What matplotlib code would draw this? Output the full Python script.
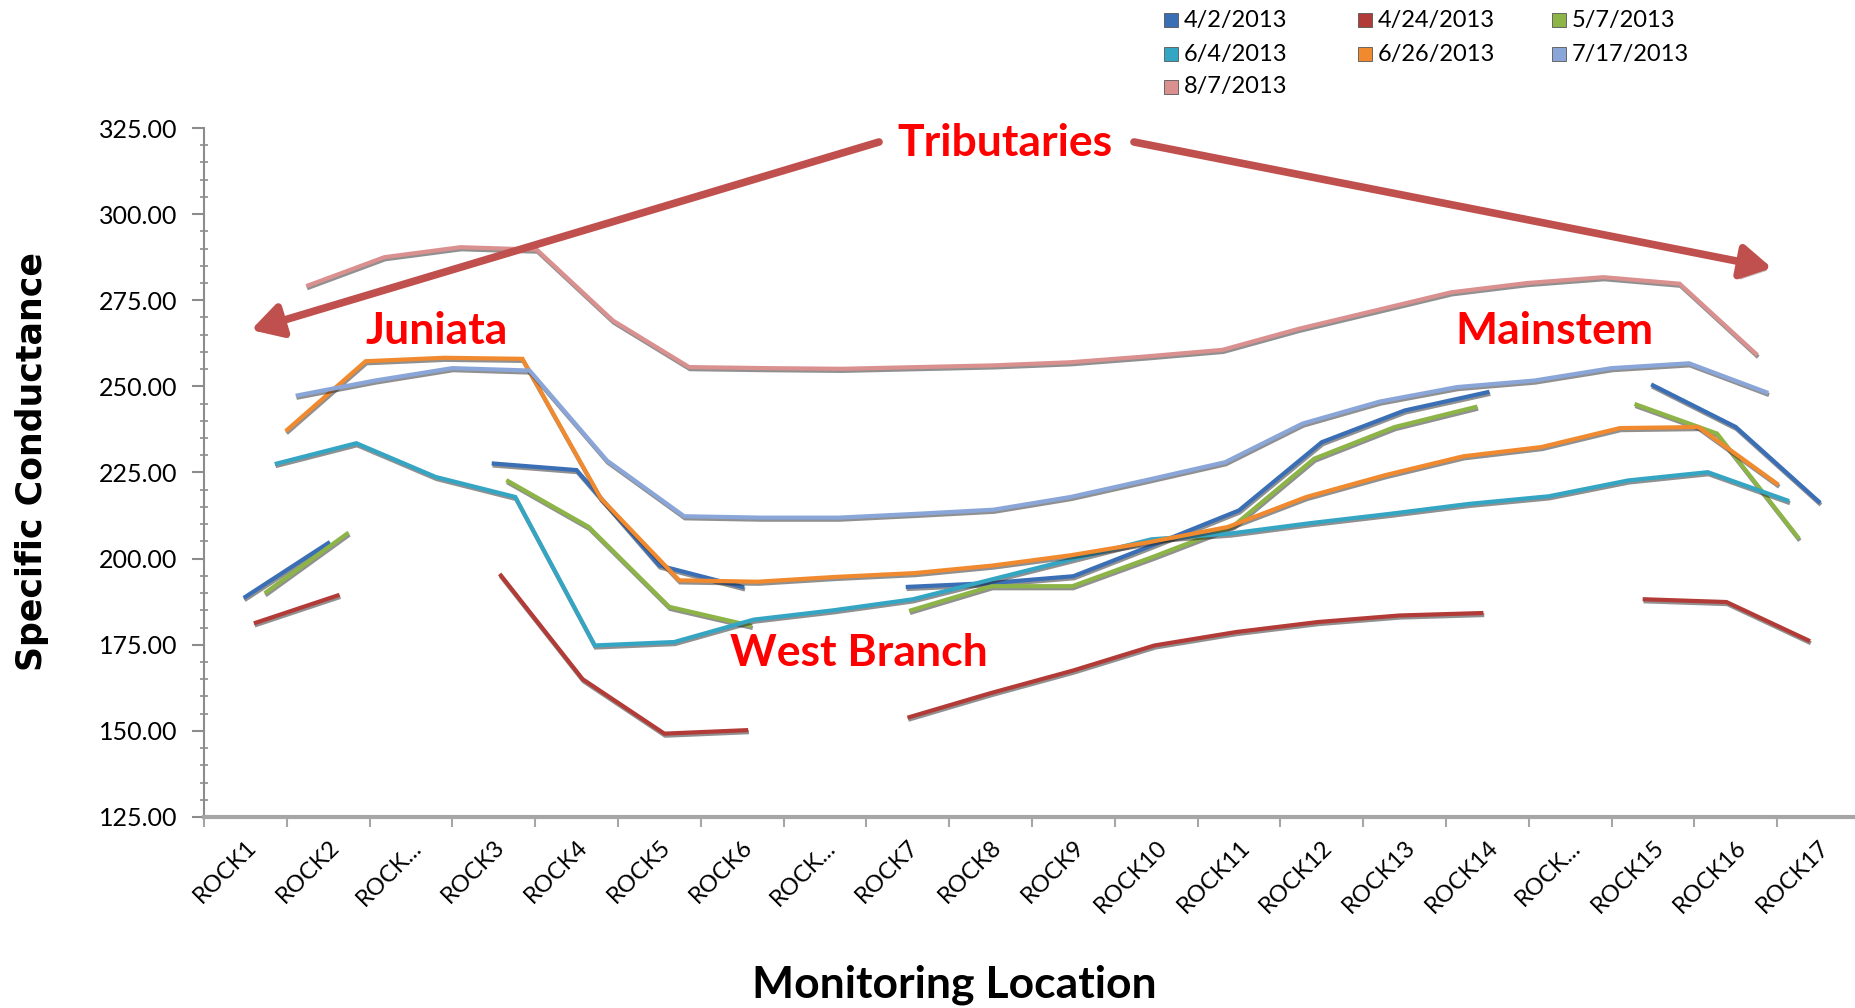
import numpy as np
import matplotlib.pyplot as plt
import matplotlib.patheffects as pe
from matplotlib.patches import FancyArrowPatch
from matplotlib.lines import Line2D
from matplotlib.ticker import MultipleLocator, FormatStrFormatter

nan = np.nan

locations = ["ROCK1", "ROCK2", "ROCK...", "ROCK3", "ROCK4", "ROCK5", "ROCK6", "ROCK...",
             "ROCK7", "ROCK8", "ROCK9", "ROCK10", "ROCK11", "ROCK12", "ROCK13", "ROCK14",
             "ROCK...", "ROCK15", "ROCK16", "ROCK17"]
dates = ["4/2/2013", "4/24/2013", "5/7/2013", "6/4/2013", "6/26/2013", "7/17/2013", "8/7/2013"]

cond_0402 = [188.9, 204.5, nan, 227.6, 225.7, 198.0, 191.8, nan, 191.8, 192.9,
             194.9, 204.3, 214.0, 233.8, 243.0, 248.3, nan, 250.3, 238.2, 216.6]
cond_0424 = [181.4, 189.3, nan, 195.1, 165.0, 149.2, 150.2, nan, 154.0, 161.0,
             167.5, 174.8, 178.7, 181.6, 183.5, 184.2, nan, 188.2, 187.4, 176.3]
cond_0507 = [190.3, 207.2, nan, 222.5, 209.2, 186.0, 180.6, nan, 185.0, 192.0,
             192.0, 200.5, 209.5, 229.0, 238.2, 244.0, nan, 244.7, 236.3, 206.3]
cond_0604 = [227.6, 233.5, 223.7, 217.9, 174.8, 175.8, 182.3, 185.0, 188.2, 194.0,
             199.8, 205.6, 207.3, 210.3, 213.0, 215.9, 218.1, 222.7, 225.1, 216.9]
cond_0626 = [237.4, 257.3, 258.3, 258.0, 217.5, 193.7, 193.3, 194.7, 195.8, 198.0,
             201.0, 204.8, 209.2, 217.9, 224.2, 229.7, 232.4, 237.9, 238.2, 221.8]
cond_0717 = [247.4, 251.7, 255.3, 254.6, 228.5, 212.3, 211.9, 211.9, 213.0, 214.2,
             217.9, 222.9, 228.0, 239.2, 245.6, 249.8, 251.7, 255.3, 256.7, 248.3]
cond_0807 = [279.3, 287.5, 290.4, 289.7, 269.1, 255.6, 255.3, 255.1, 255.6, 256.1,
             257.0, 258.7, 260.6, 266.7, 272.0, 277.3, 280.0, 281.7, 279.8, 259.5]

series = [cond_0402, cond_0424, cond_0507, cond_0604, cond_0626, cond_0717, cond_0807]
colors = ["#3a6eb5", "#b23b37", "#8db446", "#35a5c4", "#f18a2e", "#8aa6d8", "#d9908f"]

W, H = 1856, 1008
plt.rcParams['font.family'] = ['Lato', 'DejaVu Sans']

fig = plt.figure(figsize=(W / 100, H / 100), dpi=100)
fig.patch.set_facecolor("white")
ax = fig.add_axes([204 / W, 191 / H, 1656 / W, 689 / H])


def fig_xy(px, py):
    return px / W, 1 - py / H


# excel's 3-D line chart: later series sit deeper, so they are squeezed towards the middle
idx = np.arange(len(locations))
mid = (len(locations) - 1) / 2
for s, (vals, col) in enumerate(zip(series, colors)):
    x = mid + (idx - mid) * (1 - 0.0133 * s)
    ax.plot(x, vals, color=col, lw=3, solid_joinstyle='miter',
            path_effects=[pe.SimpleLineShadow(offset=(0.6, -1.5), shadow_color='#222222', alpha=0.5),
                          pe.Normal()])

ax.set_xlim(-0.5, len(locations) - 0.5)
ax.set_ylim(125, 325)
for side in ['top', 'right']:
    ax.spines[side].set_visible(False)
ax.spines['left'].set_color('#8c8c8c')
ax.spines['left'].set_linewidth(1.5)
ax.spines['bottom'].set_color('#a6a6a6')
ax.spines['bottom'].set_linewidth(3)

ax.yaxis.set_major_locator(MultipleLocator(25))
ax.yaxis.set_minor_locator(MultipleLocator(5))
ax.yaxis.set_major_formatter(FormatStrFormatter('%.2f'))
ax.tick_params(axis='y', which='major', direction='out', length=9, width=1.5,
               color='#8c8c8c', labelsize=18, pad=10)
ax.tick_params(axis='y', which='minor', direction='inout', length=6, width=1.2, color='#8c8c8c')

ax.set_xticks(idx)
ax.set_xticklabels(locations, rotation=45, ha='right', va='top', rotation_mode='anchor')
ax.set_xticks(np.arange(-0.5, len(locations), 1), minor=True)
ax.tick_params(axis='x', which='major', length=0, pad=14, labelsize=17)
ax.tick_params(axis='x', which='minor', direction='out', length=7, width=1.5, color='#a6a6a6')

fig.text(*fig_xy(32, 462), 'Specific Conductance', rotation=90, ha='center', va='center',
         fontsize=25, fontweight='bold', family='DejaVu Sans')
fig.text(*fig_xy(954, 985), 'Monitoring Location', ha='center', va='center',
         fontsize=32, fontweight='bold')

# annotations
for label, (px, py) in [("Tributaries", (1005, 143)), ("Juniata", (437, 331)),
                        ("West Branch", (859, 653)), ("Mainstem", (1554, 331))]:
    fig.text(*fig_xy(px, py), label, color='#ff0000', fontsize=32, fontweight='bold',
             ha='center', va='center')

for tail, tip in [((879, 142), (251, 330)), ((1134, 142), (1772, 268))]:
    arr = FancyArrowPatch(fig_xy(*tail), fig_xy(*tip), transform=fig.transFigure,
                          arrowstyle='-|>,head_length=1.5,head_width=0.85', mutation_scale=12,
                          lw=5.5, color='#c0504d', shrinkA=0, shrinkB=0,
                          path_effects=[pe.SimplePatchShadow(offset=(2, -3), alpha=0.3), pe.Normal()])
    fig.add_artist(arr)

# legend, three columns filled row by row
leg_cols = [1171, 1365, 1559]
leg_rows = [20, 54, 87]
for k, (label, col) in enumerate(zip(dates, colors)):
    r, c = divmod(k, 3)
    mx, my = fig_xy(leg_cols[c], leg_rows[r])
    fig.add_artist(Line2D([mx], [my], marker='s', ls='none', markersize=10,
                          markerfacecolor=col, markeredgecolor='#555555', markeredgewidth=0.6,
                          transform=fig.transFigure))
    fig.text(*fig_xy(leg_cols[c] + 13, leg_rows[r]), label, fontsize=17, ha='left', va='center')

fig.savefig('out.png', dpi=100)
